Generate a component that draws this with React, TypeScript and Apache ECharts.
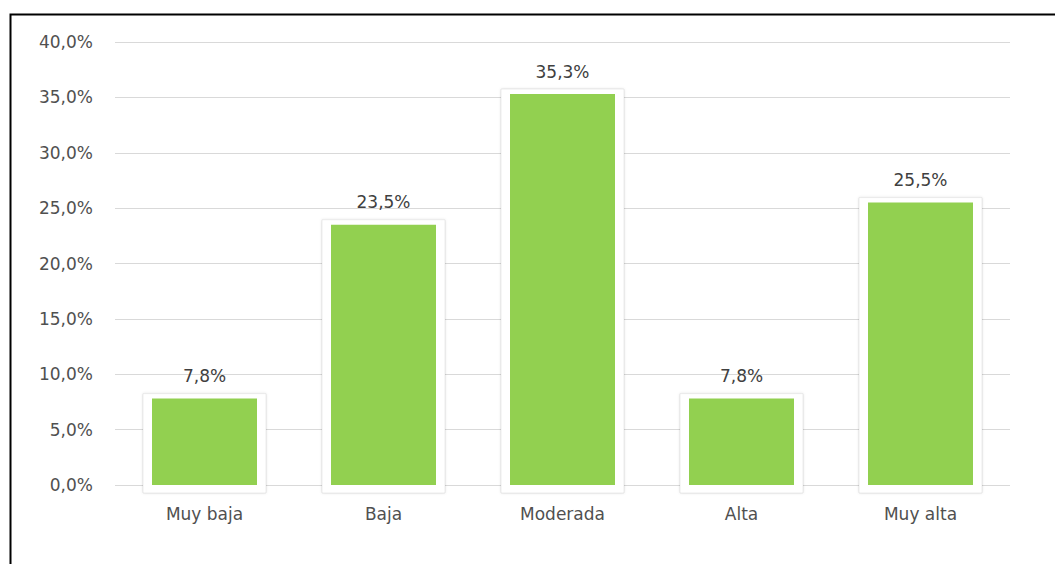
import React, { useEffect, useRef } from "react";
import * as echarts from "echarts";

const categories = ["Muy baja", "Baja", "Moderada", "Alta", "Muy alta"];
const values = [7.8, 23.5, 35.3, 7.8, 25.5];
const yTicks = { min: 0, max: 40, interval: 5 };

const fmt = (v: number) => v.toFixed(1).replace(".", ",") + "%";

export default function App() {
  const ref = useRef<HTMLDivElement>(null);
  useEffect(() => {
    document.body.style.margin = "0";
    const chart = echarts.init(ref.current!, null, { renderer: "svg" });
    const font = "DejaVu Sans, Verdana, sans-serif";
    const BAR_W = 105;
    chart.setOption({
      animation: false,
      backgroundColor: "#ffffff",
      grid: { left: 115, right: 45, top: 42, bottom: 79 },
      xAxis: {
        type: "category",
        data: categories,
        axisLine: { show: false },
        axisTick: { show: false },
        axisLabel: { color: "#505050", fontSize: 17, fontFamily: font, margin: 20 },
      },
      yAxis: {
        type: "value",
        min: yTicks.min,
        max: yTicks.max,
        interval: yTicks.interval,
        axisLine: { show: false },
        axisTick: { show: false },
        splitLine: { lineStyle: { color: "#d9d9d9", width: 1 } },
        axisLabel: {
          color: "#505050",
          fontSize: 17,
          fontFamily: font,
          margin: 22,
          formatter: (v: number) => fmt(v),
        },
      },
      series: [
        {
          type: "custom",
          data: values.map((v, i) => [i, v]),
          silent: true,
          z: 1,
          renderItem: (params: any, api: any) => {
            const top = api.coord([api.value(0), api.value(1)]);
            const base = api.coord([api.value(0), 0]);
            const x = top[0] - BAR_W / 2 - 9;
            const y = top[1] - 5;
            return {
              type: "rect",
              shape: { x, y, width: BAR_W + 18, height: base[1] - y + 8 },
              style: {
                fill: "#ffffff",
                stroke: "rgba(0,0,0,0.07)",
                lineWidth: 1,
                shadowBlur: 3,
                shadowColor: "rgba(0,0,0,0.12)",
              },
            };
          },
        },
        {
          type: "bar",
          data: values,
          barWidth: BAR_W,
          z: 2,
          itemStyle: { color: "#92D050" },
          label: {
            show: true,
            position: "top",
            distance: 14,
            color: "#404040",
            fontSize: 17,
            fontFamily: font,
            formatter: (p: any) => fmt(p.value),
          },
        },
      ],
      graphic: [
        {
          type: "rect",
          left: 8,
          top: 12,
          shape: { x: 0, y: 0, width: 1070, height: 600 },
          style: { fill: "none", stroke: "#000000", lineWidth: 2 },
          silent: true,
        },
      ],
    });
    return () => chart.dispose();
  }, []);
  return (
    <div
      ref={ref}
      style={{ position: "fixed", left: 0, top: 0, width: 1055, height: 564 }}
    />
  );
}
